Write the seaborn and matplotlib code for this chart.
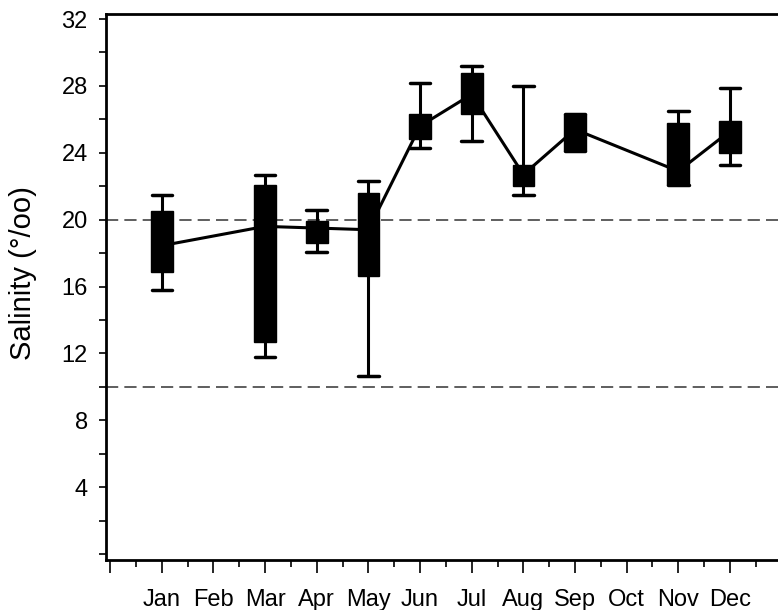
import matplotlib
matplotlib.use("Agg")
import matplotlib.pyplot as plt
import seaborn as sns
from matplotlib.ticker import MultipleLocator

months = ['Jan', 'Feb', 'Mar', 'Apr', 'May', 'Jun', 'Jul', 'Aug', 'Sep', 'Oct', 'Nov', 'Dec']
box_months = [1, 3, 4, 5, 6, 7, 8, 9, 11, 12]
whisker_low = [15.8, 11.8, 18.05, 10.65, 24.3, 24.7, 21.5, 24.1, 22.1, 23.3]
q1 = [16.9, 12.7, 18.6, 16.65, 24.8, 26.3, 22.0, 24.1, 22.1, 24.0]
median = [18.45, 19.6, 19.5, 19.4, 25.6, 27.5, 22.7, 25.4, 22.9, 25.3]
q3 = [20.5, 22.1, 19.9, 21.6, 26.3, 28.8, 23.3, 26.3, 25.8, 25.9]
whisker_high = [21.5, 22.7, 20.6, 22.3, 28.2, 29.2, 28.0, 26.3, 26.5, 27.9]
ref_lines = [20, 10]

sns.set_style('ticks')
plt.rcParams['font.family'] = ['Liberation Sans', 'DejaVu Sans']

fig = plt.figure(figsize=(7.78, 6.10), dpi=100)
ax = fig.add_axes([0.136, 0.082, 0.864, 0.895])

stats = []
for i in range(len(box_months)):
    stats.append({'whislo': whisker_low[i], 'q1': q1[i], 'med': median[i],
                  'q3': q3[i], 'whishi': whisker_high[i]})

ax.bxp(stats, positions=box_months, widths=0.42, capwidths=0.4,
       showfliers=False, patch_artist=True,
       boxprops=dict(facecolor='black', edgecolor='black', linewidth=1),
       whiskerprops=dict(color='black', linewidth=2.2),
       capprops=dict(color='black', linewidth=2.5),
       medianprops=dict(linewidth=0), zorder=3)

sns.lineplot(x=box_months, y=median, color='black', linewidth=2.2, ax=ax, zorder=2)

for v in ref_lines:
    ax.axhline(v, color='#333333', linewidth=1.1, linestyle=(0, (8, 4)), zorder=1)

ax.set_xlim(-0.085, 12.93)
ax.set_ylim(-0.35, 32.3)

ax.set_xticks(range(0, 13))
ax.set_xticklabels([''] + months)
ax.xaxis.set_minor_locator(MultipleLocator(0.5))
ax.set_yticks(range(0, 33, 4))
ax.set_yticklabels([''] + [str(v) for v in range(4, 33, 4)])
ax.yaxis.set_minor_locator(MultipleLocator(2))

ax.tick_params(axis='x', which='major', length=9, width=1.2, labelsize=17,
               pad=12, colors='black')
ax.tick_params(axis='x', which='minor', length=5, width=1.2, colors='black')
ax.tick_params(axis='y', which='major', length=5, width=1.2, labelsize=17,
               pad=8, colors='black')
ax.tick_params(axis='y', which='minor', length=5, width=1.2, colors='black')

ax.set_ylabel('Salinity (°/oo)', fontsize=21, color='black')
ax.yaxis.set_label_coords(-0.103, 0.525)
ax.set_xlabel('')

for s in ['left', 'bottom', 'top']:
    ax.spines[s].set_linewidth(2)
    ax.spines[s].set_color('black')
ax.spines['right'].set_visible(False)

fig.savefig('out.png', dpi=100)
plt.close(fig)
